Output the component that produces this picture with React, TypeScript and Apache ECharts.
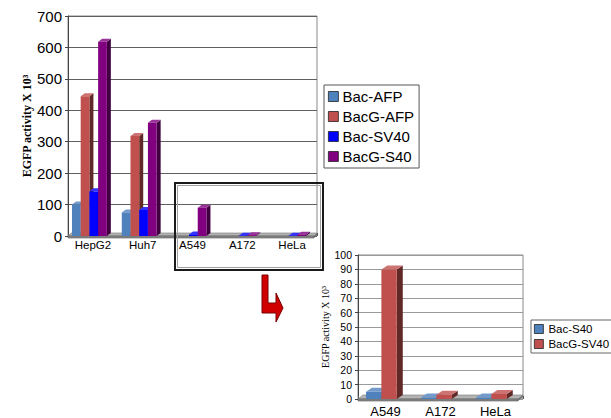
import React, { useEffect, useRef } from "react";
import * as echarts from "echarts";

// ---- Main chart data ----
const mainCategories = ["HepG2", "Huh7", "A549", "A172", "HeLa"];
const mainSeriesNames = ["Bac-AFP", "BacG-AFP", "Bac-SV40", "BacG-S40"];
const bacAFP = [100, 75, 0, 0, 0];
const bacGAFP = [445, 318, 0, 0, 0];
const bacSV40 = [142, 83, 5, 1, 1];
const bacGS40 = [618, 360, 90, 2, 4];
const mainColors = ["#4f81bd", "#c0504d", "#0000ff", "#800080"];

// ---- Inset chart data ----
const insetCategories = ["A549", "A172", "HeLa"];
const insetSeriesNames = ["Bac-S40", "BacG-SV40"];
const insetBacS40 = [5, 1, 1];
const insetBacGSV40 = [90, 3, 3.5];
const insetColors = ["#4f81bd", "#c0504d"];

const axisTitle = "EGFP activity X 10³";

function shade(hex: string, f: number): string {
  const n = parseInt(hex.slice(1), 16);
  let r = (n >> 16) & 255, g = (n >> 8) & 255, b = n & 255;
  if (f < 0) {
    r = Math.round(r * (1 + f)); g = Math.round(g * (1 + f)); b = Math.round(b * (1 + f));
  } else {
    r = Math.round(r + (255 - r) * f); g = Math.round(g + (255 - g) * f); b = Math.round(b + (255 - b) * f);
  }
  return "rgb(" + r + "," + g + "," + b + ")";
}

type Geom = { offset: number; width: number; dx: number; dy: number };

function barRenderer(idx: number, color: string, geom: Geom) {
  const sideC = shade(color, -0.5);
  const topC = shade(color, 0.2);
  return (params: any, api: any) => {
    const cat = api.value(0);
    const val = api.value(1);
    if (!(val > 0)) return null;
    const band = api.size([1, 0])[0];
    const base = api.coord([cat, 0]);
    const top = api.coord([cat, val]);
    const left = base[0] - band / 2 + band * (geom.offset + geom.width * idx);
    const w = band * geom.width;
    const yb = base[1];
    const yt = top[1];
    const dx = geom.dx, dy = geom.dy;
    return {
      type: "group",
      children: [
        { type: "polygon", shape: { points: [[left + w, yb], [left + w + dx, yb - dy], [left + w + dx, yt - dy], [left + w, yt]] }, style: { fill: sideC } },
        { type: "polygon", shape: { points: [[left, yt], [left + w, yt], [left + w + dx, yt - dy], [left + dx, yt - dy]] }, style: { fill: topC } },
        { type: "rect", shape: { x: left, y: yt, width: w, height: Math.max(yb - yt, 0) }, style: { fill: color } },
      ],
    };
  };
}

function floorRenderer(dx: number, dy: number, th: number) {
  return (params: any) => {
    const cs = params.coordSys;
    const x = cs.x, w = cs.width, yb = cs.y + cs.height;
    return {
      type: "group",
      children: [
        { type: "polygon", shape: { points: [[x, yb], [x + w - dx, yb], [x + w, yb - dy], [x + dx, yb - dy]] }, style: { fill: "#b4b4b4", stroke: "#777", lineWidth: 0.6 } },
        { type: "polygon", shape: { points: [[x, yb], [x + w - dx, yb], [x + w - dx, yb + th], [x, yb + th]] }, style: { fill: "#8a8a8a", stroke: "#555", lineWidth: 0.6 } },
        { type: "polygon", shape: { points: [[x + w - dx, yb], [x + w, yb - dy], [x + w, yb - dy + th], [x + w - dx, yb + th]] }, style: { fill: "#6e6e6e" } },
      ],
    };
  };
}

export default function App() {
  const ref = useRef<HTMLDivElement>(null);
  useEffect(() => {
    if (!ref.current) return;
    const chart = echarts.init(ref.current, undefined, { renderer: "svg" });
    const mainVals = [bacAFP, bacGAFP, bacSV40, bacGS40];
    const insetVals = [insetBacS40, insetBacGSV40];
    const mainGeom: Geom = { offset: 0.08, width: 0.175, dx: 4, dy: 3 };
    const insetGeom: Geom = { offset: 0.145, width: 0.28, dx: 6, dy: 4 };

    const series: any[] = [
      { type: "custom", name: "floor-main", xAxisIndex: 0, yAxisIndex: 0, z: 1, silent: true, data: [[0, 0]], renderItem: floorRenderer(3, 3, 2) },
      { type: "custom", name: "floor-inset", xAxisIndex: 1, yAxisIndex: 1, z: 1, silent: true, data: [[0, 0]], renderItem: floorRenderer(5, 4, 2) },
    ];
    mainSeriesNames.forEach((name, i) => {
      series.push({
        type: "custom",
        name,
        xAxisIndex: 0,
        yAxisIndex: 0,
        z: 2,
        itemStyle: { color: mainColors[i] },
        data: mainCategories.map((_, j) => [j, mainVals[i][j]]),
        renderItem: barRenderer(i, mainColors[i], mainGeom),
      });
    });
    insetSeriesNames.forEach((name, i) => {
      series.push({
        type: "custom",
        name,
        xAxisIndex: 1,
        yAxisIndex: 1,
        z: 2,
        itemStyle: { color: insetColors[i] },
        data: insetCategories.map((_, j) => [j, insetVals[i][j]]),
        renderItem: barRenderer(i, insetColors[i], insetGeom),
      });
    });

    const sans = "Liberation Sans";
    const serif = "Liberation Serif";

    chart.setOption({
      animation: false,
      grid: [
        { left: 68, top: 16, width: 249, height: 220, show: true, borderColor: "#8a8a8a", borderWidth: 1, containLabel: false },
        { left: 358, top: 255, width: 165, height: 150, show: true, borderColor: "#8a8a8a", borderWidth: 1, containLabel: false },
      ],
      xAxis: [
        {
          type: "category", gridIndex: 0, data: mainCategories,
          axisLine: { show: false },
          axisTick: { show: true, inside: true, length: 3, lineStyle: { color: "#555" } },
          axisLabel: { margin: 3, fontSize: 11.5, fontFamily: sans, color: "#000" },
        },
        {
          type: "category", gridIndex: 1, data: insetCategories,
          axisLine: { show: false },
          axisTick: { show: true, inside: true, length: 3, lineStyle: { color: "#555" } },
          axisLabel: { margin: 6, fontSize: 13, fontFamily: sans, color: "#000" },
        },
      ],
      yAxis: [
        {
          type: "value", gridIndex: 0, min: 0, max: 700, interval: 100,
          axisLine: { show: true, lineStyle: { color: "#444" } },
          axisTick: { show: true, length: 3, lineStyle: { color: "#444" } },
          splitLine: { lineStyle: { color: "#606060", width: 1 } },
          axisLabel: { margin: 6, fontSize: 15, fontFamily: sans, color: "#000" },
          name: axisTitle, nameLocation: "middle", nameRotate: 90, nameGap: 35,
          nameTextStyle: { fontFamily: serif, fontWeight: "bold", fontSize: 12, color: "#000" },
        },
        {
          type: "value", gridIndex: 1, min: 0, max: 100, interval: 10,
          axisLine: { show: true, lineStyle: { color: "#444" } },
          axisTick: { show: true, length: 3, lineStyle: { color: "#444" } },
          splitLine: { lineStyle: { color: "#9a9a9a", width: 1 } },
          axisLabel: { margin: 6, fontSize: 10.5, fontFamily: sans, color: "#000" },
          name: axisTitle, nameLocation: "middle", nameRotate: 90, nameGap: 28,
          nameTextStyle: { fontFamily: serif, fontSize: 10, color: "#000" },
        },
      ],
      legend: [
        {
          data: mainSeriesNames, orient: "vertical", left: 324, top: 85,
          padding: [4, 5, 4, 4], itemGap: 5, itemWidth: 10, itemHeight: 10, icon: "rect",
          borderColor: "#555", borderWidth: 1,
          itemStyle: { borderColor: "#222", borderWidth: 0.8 },
          textStyle: { fontSize: 15, fontFamily: sans, color: "#000", padding: [0, 0, 0, -1] },
          selectedMode: false,
        },
        {
          data: insetSeriesNames, orient: "vertical", left: 531, top: 320,
          padding: [3, 3, 3, 3], itemGap: 3, itemWidth: 9, itemHeight: 9, icon: "rect",
          borderColor: "#666", borderWidth: 1,
          itemStyle: { borderColor: "#222", borderWidth: 0.8 },
          textStyle: { fontSize: 11.5, fontFamily: sans, color: "#000" },
          selectedMode: false,
        },
      ],
      graphic: [
        { type: "rect", shape: { x: 175, y: 183, width: 148, height: 87 }, style: { fill: "none", stroke: "#1a1a1a", lineWidth: 2 }, z: 10 },
        { type: "rect", shape: { x: 177.5, y: 185.5, width: 143, height: 82 }, style: { fill: "none", stroke: "#a0a0a0", lineWidth: 1 }, z: 10 },
        {
          type: "polygon", z: 10,
          shape: { points: [[262, 275], [268, 275], [268, 303], [276, 303], [276, 293], [283, 308], [276, 322], [276, 313], [262, 313]] },
          style: { fill: "#d00000", stroke: "#7a0000", lineWidth: 1 },
        },
      ],
      series,
    });
    return () => chart.dispose();
  }, []);
  return <div ref={ref} style={{ position: "fixed", left: 0, top: 0, width: 611, height: 418, background: "#fff" }} />;
}
